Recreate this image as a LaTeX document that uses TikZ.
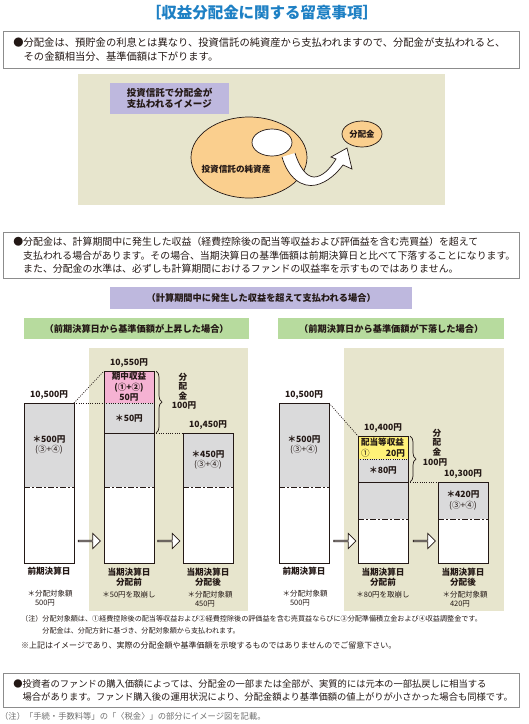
\documentclass[tikz,border=0pt]{standalone}
\usepackage{fontspec}
\setmainfont{Noto Sans CJK JP}
\usepackage{tikz}
\usetikzlibrary{shapes.geometric, shapes.arrows, positioning, decorations.pathreplacing}

\definecolor{inkc}{RGB}{35,24,21}
\definecolor{titlec}{RGB}{30,128,196}
\definecolor{boxc}{RGB}{140,140,140}
\definecolor{beigec}{RGB}{231,229,205}
\definecolor{lavc}{RGB}{190,184,222}
\definecolor{greenc}{RGB}{183,219,158}
\definecolor{orangec}{RGB}{250,207,142}
\definecolor{pinkc}{RGB}{245,178,211}
\definecolor{yellowc}{RGB}{255,241,120}
\definecolor{barc}{RGB}{218,218,219}
\definecolor{footc}{RGB}{110,110,110}

\begin{document}
\begin{tikzpicture}[x=1pt, y=-1pt, color=inkc,
  note/.style={draw=boxc, line width=0.7pt, anchor=north west, align=left,
               inner xsep=10pt, inner ysep=0pt, text width=496pt},
  panel/.style={fill=beigec, anchor=north west, inner sep=0pt},
  tag/.style={anchor=north west, inner sep=0pt, align=center,
              font=\bfseries\fontsize{9.2}{11}\selectfont},
  seg/.style={anchor=north west, inner sep=0pt, outer sep=0pt,
              minimum width=50pt, align=center,
              font=\bfseries\fontsize{8.6}{10.5}\selectfont},
  barline/.style={draw=inkc, line width=0.9pt},
  floorline/.style={line width=0.9pt, dash pattern=on 6pt off 2pt on 2pt off 2pt},
  dotline/.style={line width=0.7pt, dash pattern=on 1pt off 1.3pt},
  val/.style={inner sep=0pt, font=\bfseries\fontsize{8.6}{10}\selectfont},
  day/.style={inner sep=0pt, align=center, font=\bfseries\fontsize{8.6}{10}\selectfont},
  small/.style={inner sep=0pt, align=left, font=\fontsize{7.5}{9.5}\selectfont},
  push/.style={single arrow, draw=inkc, fill=white, line width=0.7pt,
               minimum height=22pt, minimum width=15pt, inner sep=0pt,
               single arrow head extend=3.5pt, single arrow head indent=0pt},
  brace/.style={decorate, decoration={brace, amplitude=6pt}, line width=0.7pt}
]
\useasboundingbox (0,0) rectangle (529,724);

% title and first notice
\node[font=\bfseries\fontsize{15.5}{18}\selectfont, text=titlec] (title) at (262,13)
  {［収益分配金に関する留意事項］};
\node[note, minimum height=37pt, font=\fontsize{10.3}{14}\selectfont] (box1) at (3,31)
  {●分配金は、預貯金の利息とは異なり、投資信託の純資産から支払われますので、分配金が支払われると、\\
   \phantom{●}その金額相当分、基準価額は下がります。};

% image of the payout
\node[panel, minimum width=367pt, minimum height=131pt] (imgbg) at (78,74) {};
\node[tag, fill=lavc, minimum width=119pt, minimum height=31pt, align=left,
      font=\bfseries\fontsize{9.5}{11}\selectfont] (imgtag) at (110,83)
  {投資信託で分配金が\\支払われるイメージ};
\node[ellipse, draw=inkc, line width=0.7pt, fill=orangec,
      minimum width=116pt, minimum height=81pt] (fund) at (249,157.5) {};
\node[ellipse, draw=inkc, line width=0.7pt, fill=white,
      minimum width=40pt, minimum height=27pt] (hole) at (272,142.5) {};
\node[font=\bfseries\fontsize{8.6}{10}\selectfont] (fundtxt) at (236,169) {投資信託の純資産};
\node[ellipse, draw=inkc, line width=0.7pt, fill=orangec, inner sep=0pt,
      minimum width=40pt, minimum height=26pt,
      font=\bfseries\fontsize{8.4}{10}\selectfont] (payout) at (362,134) {分配金};
\fill[white] (282,157) .. controls (288,178) and (302,188) .. (316,185)
  .. controls (328,182) and (337,173) .. (343,165) -- (352,169) -- (347,148)
  -- (331,157) -- (336,159) .. controls (330,169) and (322,177) .. (314,177)
  .. controls (306,177) and (299,166) .. (295,153) -- cycle;
\draw[line width=0.7pt] (282,157) .. controls (288,178) and (302,188) .. (316,185)
  .. controls (328,182) and (337,173) .. (343,165) -- (352,169) -- (347,148)
  -- (331,157) -- (336,159) .. controls (330,169) and (322,177) .. (314,177)
  .. controls (306,177) and (299,166) .. (295,153);

% second notice
\node[note, minimum height=46pt, font=\fontsize{9.9}{13.5}\selectfont] (box2) at (3,232)
  {●分配金は、計算期間中に発生した収益（経費控除後の配当等収益および評価益を含む売買益）を超えて\\
   \phantom{●}支払われる場合があります。その場合、当期決算日の基準価額は前期決算日と比べて下落することになります。\\
   \phantom{●}また、分配金の水準は、必ずしも計算期間におけるファンドの収益率を示すものではありません。};

\node[tag, fill=lavc, minimum width=302pt, minimum height=22pt] (casebar) at (110,287)
  {（計算期間中に発生した収益を超えて支払われる場合）};
\node[tag, fill=greenc, minimum width=225pt, minimum height=21pt] (upbar) at (24,318)
  {（前期決算日から基準価額が上昇した場合）};
\node[tag, fill=greenc, minimum width=226pt, minimum height=21pt] (downbar) at (278,318)
  {（前期決算日から基準価額が下落した場合）};
\node[panel, minimum width=159pt, minimum height=263pt] (uppanel) at (89,348) {};
\node[panel, minimum width=160pt, minimum height=263pt] (downpanel) at (344,348) {};

% left case: price went up
\node[seg, fill=barc, minimum height=84pt] (lAg) at (24,403) {＊500円\\{\mdseries (③+④)}};
\node[seg, fill=white, minimum height=76pt] (lAw) at (24,487) {};
\draw[barline] (lAg.north west) rectangle (lAw.south east);
\draw[floorline] (lAg.south west) -- (lAg.south east);

\node[seg, fill=pinkc, minimum height=32pt] (lBp) at (104,371) {期中収益\\(①+②)\\50円};
\node[seg, fill=barc, minimum height=30pt] (lBd) at (104,403) {＊50円};
\node[seg, fill=barc, minimum height=54pt] (lBg) at (104,433) {};
\node[seg, fill=white, minimum height=76pt] (lBw) at (104,487) {};
\draw[barline] (lBp.north west) rectangle (lBw.south east);
\draw[barline] (lBd.south west) -- (lBd.south east);
\draw[floorline] (lBg.south west) -- (lBg.south east);

\node[seg, fill=barc, minimum height=54pt] (lCg) at (183,433) {＊450円\\{\mdseries (③+④)}};
\node[seg, fill=white, minimum height=76pt] (lCw) at (183,487) {};
\draw[barline] (lCg.north west) rectangle (lCw.south east);
\draw[floorline] (lCg.south west) -- (lCg.south east);

\draw[dotline] (lAg.north east) -- (lBp.north west);
\draw[dotline] (lAg.north east) -- (lBp.south east);
\draw[dotline] (lBd.south east) -- (lCg.north west);
\draw[brace] ([xshift=2pt]lBp.north east) -- ([xshift=2pt]lBd.south east);
\node[day, font=\bfseries\fontsize{8.6}{9.3}\selectfont] (lpay) at (183,386.5) {分\\配\\金};
\node[val] (lhund) at (184,405) {100円};

\node[val, above=3pt of lAg] (lAv) {10,500円};
\node[val, above=3pt of lBp] (lBv) {10,550円};
\node[val, above=3pt of lCg] (lCv) {10,450円};
\node[push] (lar1) at (89,541) {};
\node[push] (lar2) at (168.5,541) {};
\node[day] (lAd) at (49,571) {前期決算日};
\node[day] (lBn) at (129,577) {当期決算日\\分配前};
\node[day] (lCd) at (208,577) {当期決算日\\分配後};
\node[small] (lAs) at (50,598) {＊分配対象額\\\phantom{＊}500円};
\node[small] (lBs) at (129,595) {＊50円を取崩し};
\node[small] (lCs) at (210,599) {＊分配対象額\\\phantom{＊}450円};

% right case: price went down
\node[seg, fill=barc, minimum height=84pt] (rAg) at (279,403) {＊500円\\{\mdseries (③+④)}};
\node[seg, fill=white, minimum height=76pt] (rAw) at (279,487) {};
\draw[barline] (rAg.north west) rectangle (rAw.south east);
\draw[floorline] (rAg.south west) -- (rAg.south east);

\node[seg, fill=yellowc, minimum height=23pt, text width=44pt, align=left] (rBy) at (358,436)
  {配当等収益\\{\mdseries ①}\hfill 20円};
\node[seg, fill=barc, minimum height=23pt] (rBd) at (358,459) {＊80円};
\node[seg, fill=barc, minimum height=37pt] (rBg) at (358,482) {};
\node[seg, fill=white, minimum height=44pt] (rBw) at (358,519) {};
\draw[barline] (rBy.north west) rectangle (rBw.south east);
\draw[dotline] (rBy.south west) -- (rBy.south east);
\draw[barline] (rBd.south west) -- (rBd.south east);
\draw[floorline] (rBg.south west) -- (rBg.south east);

\node[seg, fill=barc, minimum height=37pt] (rCg) at (438,482) {＊420円\\{\mdseries (③+④)}};
\node[seg, fill=white, minimum height=44pt] (rCw) at (438,519) {};
\draw[barline] (rCg.north west) rectangle (rCw.south east);
\draw[floorline] (rCg.south west) -- (rCg.south east);

\draw[dotline] (rAg.north east) -- (rBy.north west);
\draw[dotline] (rBd.south east) -- (rCg.north west);
\draw[brace] ([xshift=2pt]rBy.north east) -- ([xshift=2pt]rBd.south east);
\node[day, font=\bfseries\fontsize{8.6}{9.3}\selectfont] (rpay) at (437,442.5) {分\\配\\金};
\node[val] (rhund) at (435,462) {100円};

\node[val, above=3pt of rAg] (rAv) {10,500円};
\node[val, above=3pt of rBy] (rBv) {10,400円};
\node[val, above=3pt of rCg] (rCv) {10,300円};
\node[push] (rar1) at (344.5,541) {};
\node[push] (rar2) at (424,541) {};
\node[day] (rAd) at (304,571) {前期決算日};
\node[day] (rBn) at (383,577) {当期決算日\\分配前};
\node[day] (rCd) at (463,577) {当期決算日\\分配後};
\node[small] (rAs) at (305,598) {＊分配対象額\\\phantom{＊}500円};
\node[small] (rBs) at (383,595) {＊80円を取崩し};
\node[small] (rCs) at (465,599) {＊分配対象額\\\phantom{＊}420円};

% footnotes
\node[anchor=west, inner sep=0pt, align=left, font=\fontsize{7.1}{12}\selectfont] (fn1) at (21,625)
  {（注）分配対象額は、①経費控除後の配当等収益および②経費控除後の評価益を含む売買益ならびに③分配準備積立金および④収益調整金です。\\
   \phantom{（注）}分配金は、分配方針に基づき、分配対象額から支払われます。};
\node[anchor=west, inner sep=0pt, font=\fontsize{8}{10}\selectfont] (fn2) at (21,645)
  {※上記はイメージであり、実際の分配金額や基準価額を示唆するものではありませんのでご留意下さい。};

\node[note, minimum height=34pt, font=\fontsize{9.3}{13.5}\selectfont] (box3) at (3,673)
  {●投資者のファンドの購入価額によっては、分配金の一部または全部が、実質的には元本の一部払戻しに相当する\\
   \phantom{●}場合があります。ファンド購入後の運用状況により、分配金額より基準価額の値上がりが小さかった場合も同様です。};
\node[anchor=west, inner sep=0pt, text=footc, font=\fontsize{8.3}{10}\selectfont] (foot) at (0,716)
  {（注）「手続・手数料等」の「〈税金〉」の部分にイメージ図を記載。};
\end{tikzpicture}
\end{document}
